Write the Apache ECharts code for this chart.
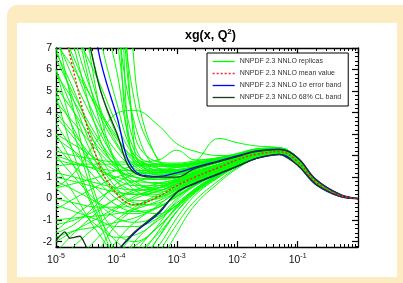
<!DOCTYPE html>
<html>
<head>
<meta charset="utf-8">
<script src="https://cdn.jsdelivr.net/npm/echarts@6/dist/echarts.min.js"></script>
<style>
  html, body { margin: 0; padding: 0; background: #fff; }
  #main { width: 403px; height: 283px; }
</style>
</head>
<body>
<div id="main"></div>
<script>
// x grid shared by the replicas and the bands
var xs = [1e-5, 2e-5, 5e-5, 1e-4, 2e-4, 5e-4, 1e-3, 2e-3, 5e-3, 1e-2, 2e-2, 5e-2, 0.1, 0.2, 0.5, 1];

var meanValue = [10, 5.8, 1.7, 0.25, -0.28, 0.1, 0.6, 1.0, 1.45, 1.8, 2.05, 2.18, 1.72, 0.78, 0.15, 0];
var sigmaUpper = [20, 14, 6.9, 3.9, 1.3, 1.03, 1.2, 1.45, 1.75, 1.98, 2.2, 2.3, 1.9, 0.9, 0.2, 0];
var sigmaLower = [-12, -9, -5, -2.6, -1.6, -0.7, 0.28, 0.7, 1.15, 1.5, 1.85, 2.05, 1.55, 0.66, 0.1, 0];
var clUpper = [16, 11, 5.4, 3.1, 1.2, 1.0, 1.0, 1.4, 1.72, 1.95, 2.18, 2.28, 1.89, 0.89, 0.2, 0];
var xsClLower = [1e-5, 1.4e-5, 1.7e-5, 2e-5, 2.5e-5, 3e-5, 4e-5, 5e-5, 1e-4, 2e-4, 5e-4, 1e-3, 2e-3, 5e-3, 1e-2, 2e-2, 5e-2, 0.1, 0.2, 0.5, 1];
var clLower = [-1.95, -1.55, -1.85, -1.8, -1.75, -2.1, -3, -4, -2.5, -1.55, -0.65, 0.3, 0.72, 1.17, 1.5, 1.86, 2.06, 1.56, 0.66, 0.1, 0];

var replicas = [
  [14, 9, 4.5, 2.6, 1.6, 1.2, 1.3, 1.5, 1.8, 2.0, 2.2, 2.3, 1.8, 0.8, 0.15, 0],
  [11, 7.5, 4.2, 2.8, 1.9, 1.5, 1.5, 1.6, 1.85, 2.05, 2.25, 2.3, 1.85, 0.82, 0.16, 0],
  [9, 6.2, 3.5, 2.2, 1.4, 1.0, 1.0, 1.25, 1.6, 1.9, 2.15, 2.25, 1.75, 0.78, 0.15, 0],
  [7.5, 5.5, 3.2, 1.8, 1.0, 0.7, 0.8, 1.05, 1.5, 1.85, 2.1, 2.2, 1.7, 0.75, 0.14, 0],
  [6.5, 4.8, 2.8, 1.7, 1.2, 0.9, 0.95, 1.2, 1.55, 1.85, 2.1, 2.2, 1.72, 0.76, 0.14, 0],
  [5.8, 4.5, 2.6, 1.5, 0.8, 0.4, 0.6, 0.95, 1.4, 1.75, 2.05, 2.2, 1.7, 0.74, 0.14, 0],
  [20, 15, 8, 4.5, 2.0, 1.1, 1.1, 1.35, 1.7, 1.95, 2.2, 2.3, 1.8, 0.8, 0.15, 0],
  [25, 18, 10, 6.0, 2.2, 1.6, 1.55, 1.65, 1.85, 2.05, 2.3, 2.35, 1.85, 0.82, 0.16, 0],
  [40, 30, 18, 10, 1.8, 1.6, 1.6, 1.7, 1.85, 2.0, 2.25, 2.3, 1.85, 0.8, 0.15, 0],
  [60, 45, 30, 20, 1.6, 1.5, 1.55, 1.65, 1.9, 2.05, 2.25, 2.35, 1.85, 0.82, 0.16, 0],
  [50, 40, 25, 15, 3.0, 1.7, 1.65, 1.75, 1.9, 2.1, 2.3, 2.35, 1.9, 0.82, 0.16, 0],
  [30, 22, 12, 7.5, 2.5, 1.3, 1.3, 1.45, 1.75, 2.0, 2.2, 2.3, 1.8, 0.8, 0.15, 0],
  [-6, -4.5, -2.5, -1.2, -0.5, 0.1, 0.5, 0.9, 1.4, 1.8, 2.1, 2.2, 1.7, 0.75, 0.14, 0],
  [-9, -7, -4.5, -2.8, -1.6, -0.6, 0.2, 0.75, 1.3, 1.7, 2.0, 2.15, 1.68, 0.74, 0.14, 0],
  [-14, -11, -7, -4.5, -2.6, -1.2, -0.1, 0.6, 1.2, 1.65, 2.0, 2.15, 1.68, 0.74, 0.13, 0],
  [-20, -15, -10, -6.5, -3.8, -1.8, -0.6, 0.3, 1.05, 1.55, 1.95, 2.1, 1.65, 0.73, 0.13, 0],
  [-3, -2.2, -1.2, -0.5, 0, 0.35, 0.65, 1.0, 1.45, 1.8, 2.1, 2.2, 1.72, 0.76, 0.14, 0],
  [-2, -1.5, -0.9, -0.4, 0.1, 0.5, 0.8, 1.1, 1.5, 1.85, 2.1, 2.2, 1.7, 0.75, 0.14, 0],
  [-25, -19, -13, -8, -5, -2.6, -1.2, -0.1, 0.85, 1.45, 1.9, 2.1, 1.65, 0.72, 0.13, 0],
  [-30, -24, -16, -10, -6, -3.2, -1.6, -0.3, 0.75, 1.4, 1.85, 2.05, 1.62, 0.72, 0.12, 0],
  [1.0, 0.8, 0.5, 0.3, 0.2, 0.35, 0.7, 1.05, 1.5, 1.85, 2.1, 2.2, 1.7, 0.75, 0.14, 0],
  [2.0, 1.7, 1.3, 1.0, 0.8, 0.75, 0.9, 1.2, 1.6, 1.9, 2.15, 2.25, 1.75, 0.77, 0.15, 0],
  [0.0, -0.2, -0.4, -0.4, -0.3, 0.05, 0.45, 0.85, 1.35, 1.75, 2.05, 2.2, 1.7, 0.75, 0.14, 0],
  [-1.0, -0.9, -0.8, -0.7, -0.5, -0.1, 0.3, 0.75, 1.3, 1.7, 2.05, 2.15, 1.7, 0.74, 0.14, 0],
  [3.0, 2.5, 1.8, 1.3, 1.0, 0.9, 1.0, 1.25, 1.6, 1.9, 2.15, 2.25, 1.76, 0.78, 0.15, 0],
  [-1.8, -1.5, -1.3, -1.1, -0.9, -0.4, 0.1, 0.6, 1.2, 1.65, 2.0, 2.15, 1.68, 0.74, 0.13, 0],
  [4.5, 3.5, 2.2, 1.4, 1.0, 0.9, 1.1, 1.35, 1.7, 1.95, 2.2, 2.28, 1.8, 0.79, 0.15, 0],
  [1.5, 1.6, 1.6, 1.6, 1.6, 1.55, 1.55, 1.6, 1.8, 2.0, 2.25, 2.32, 1.85, 0.8, 0.16, 0],
  [0.5, 0.7, 1.0, 1.3, 1.5, 1.6, 1.6, 1.65, 1.85, 2.0, 2.25, 2.3, 1.82, 0.8, 0.15, 0],
  [-1.5, -0.8, 0, 0.5, 0.8, 1.0, 1.1, 1.3, 1.6, 1.85, 2.1, 2.2, 1.72, 0.76, 0.14, 0],
  [-2.5, -1.6, -0.6, 0, 0.4, 0.7, 0.9, 1.15, 1.5, 1.8, 2.1, 2.2, 1.7, 0.75, 0.14, 0],
  [2.5, 1.5, 0.4, -0.3, -0.6, -0.4, 0.1, 0.65, 1.25, 1.7, 2.05, 2.18, 1.7, 0.74, 0.14, 0],
  [5, 3.2, 1.2, 0.2, -0.3, -0.2, 0.3, 0.8, 1.35, 1.75, 2.05, 2.2, 1.7, 0.75, 0.14, 0],
  [7, 4.5, 1.8, 0.5, -0.1, 0.0, 0.4, 0.85, 1.4, 1.8, 2.1, 2.2, 1.7, 0.75, 0.14, 0],
  [3.5, 2.2, 0.8, 0.0, -0.5, -0.7, -0.3, 0.35, 1.1, 1.6, 2.0, 2.15, 1.68, 0.74, 0.13, 0],
  [0.5, -0.3, -1.3, -1.8, -1.7, -1.0, -0.3, 0.4, 1.1, 1.6, 2.0, 2.15, 1.66, 0.73, 0.13, 0],
  [6, 4, 1.5, 0.4, 0.2, 0.5, 0.85, 1.15, 1.55, 1.85, 2.1, 2.22, 1.72, 0.76, 0.14, 0],
  [-0.5, 0.0, 0.6, 1.0, 1.2, 1.25, 1.3, 1.45, 1.7, 1.95, 2.2, 2.28, 1.8, 0.79, 0.15, 0],
  [6, 3, -0.5, -2.5, -3, -1.8, -0.6, 0.3, 1.05, 1.55, 1.95, 2.1, 1.65, 0.73, 0.13, 0],
  [3, 1.5, -1, -2.8, -3.5, -2.2, -0.9, 0.15, 1.0, 1.5, 1.95, 2.1, 1.64, 0.72, 0.13, 0],
  [1.5, 0.2, -1.6, -2.4, -2.2, -1.3, -0.4, 0.45, 1.15, 1.6, 2.0, 2.15, 1.66, 0.73, 0.13, 0],
  [0.5, 1.2, 2.8, 3.95, 4.1, 3.4, 2.55, 2.2, 2.0, 2.05, 2.3, 2.35, 1.85, 0.8, 0.15, 0],
  [1.8, 1.6, 1.4, 1.3, 1.3, 1.35, 1.45, 1.7, 2.8, 2.6, 2.45, 2.35, 1.9, 0.82, 0.16, 0],
  [2.2, 2.0, 1.8, 1.7, 1.7, 1.8, 2.25, 1.8, 1.9, 2.05, 2.28, 2.35, 1.88, 0.81, 0.16, 0],
  [8.5, 6.5, 4.0, 2.5, 1.5, 1.1, 1.15, 1.4, 1.7, 1.95, 2.15, 2.22, 1.75, 0.77, 0.15, 0],
  [10, 7, 3.0, 1.4, 0.7, 0.5, 0.7, 1.0, 1.45, 1.8, 2.08, 2.18, 1.7, 0.75, 0.14, 0],
  [12, 8.5, 3.8, 1.6, 0.6, 0.3, 0.55, 0.95, 1.4, 1.78, 2.05, 2.15, 1.7, 0.74, 0.14, 0],
  [16, 11, 5.5, 3.0, 1.7, 1.3, 1.35, 1.5, 1.78, 2.0, 2.2, 2.28, 1.8, 0.79, 0.15, 0],
  [9.5, 7.8, 5.5, 3.5, 2.0, 1.4, 1.35, 1.5, 1.75, 1.98, 2.2, 2.27, 1.78, 0.78, 0.15, 0],
  [7.2, 6.0, 4.2, 2.9, 1.8, 1.3, 1.25, 1.42, 1.72, 1.95, 2.16, 2.25, 1.76, 0.77, 0.15, 0],
  [6.8, 5.0, 2.2, 0.8, 0.2, 0.2, 0.5, 0.9, 1.4, 1.78, 2.06, 2.18, 1.7, 0.75, 0.14, 0],
  [5.2, 4.0, 2.4, 1.6, 1.25, 1.15, 1.2, 1.4, 1.7, 1.95, 2.15, 2.25, 1.76, 0.77, 0.15, 0],
  [4.0, 3.0, 1.6, 0.8, 0.4, 0.4, 0.7, 1.05, 1.5, 1.83, 2.1, 2.2, 1.72, 0.76, 0.14, 0],
  [18, 12, 4.5, 1.6, 0.4, 0.1, 0.4, 0.85, 1.35, 1.75, 2.05, 2.18, 1.7, 0.75, 0.14, 0],
  [35, 25, 14, 8.5, 3.5, 1.4, 1.3, 1.45, 1.75, 1.98, 2.2, 2.28, 1.8, 0.79, 0.15, 0],
  [45, 34, 20, 12, 4.5, 1.8, 1.5, 1.6, 1.82, 2.02, 2.24, 2.3, 1.82, 0.8, 0.15, 0],
  [80, 60, 40, 25, 6, 1.7, 1.45, 1.55, 1.8, 2.0, 2.22, 2.3, 1.82, 0.8, 0.15, 0],
  [70, 50, 35, 22, 2.2, 1.2, 1.2, 1.4, 1.72, 1.96, 2.18, 2.26, 1.78, 0.78, 0.15, 0],
  [-4, -3, -1.8, -1.0, -0.4, 0.2, 0.6, 0.95, 1.42, 1.8, 2.08, 2.18, 1.7, 0.75, 0.14, 0],
  [-1.2, -1.0, -0.5, 0.0, 0.3, 0.6, 0.85, 1.1, 1.5, 1.83, 2.1, 2.2, 1.72, 0.76, 0.14, 0],
  [0.8, 0.4, -0.2, -0.6, -0.7, -0.4, 0.1, 0.6, 1.2, 1.65, 2.0, 2.15, 1.68, 0.74, 0.13, 0],
  [2.0, 1.0, -0.2, -0.9, -1.1, -0.8, -0.2, 0.45, 1.15, 1.6, 2.0, 2.15, 1.66, 0.73, 0.13, 0],
  [-0.3, -0.6, -1.0, -1.3, -1.3, -0.9, -0.3, 0.4, 1.1, 1.6, 1.98, 2.12, 1.66, 0.73, 0.13, 0],
  [-11, -8, -5, -3.2, -2.0, -0.9, 0.0, 0.65, 1.25, 1.7, 2.02, 2.15, 1.68, 0.74, 0.13, 0],
  [-7, -5.2, -3.2, -2.0, -1.1, -0.3, 0.35, 0.85, 1.38, 1.76, 2.06, 2.18, 1.7, 0.75, 0.14, 0],
  [-17, -13, -8.5, -5.5, -3.2, -1.5, -0.35, 0.45, 1.12, 1.6, 1.98, 2.12, 1.66, 0.73, 0.13, 0],
  [1.2, 1.0, 0.7, 0.5, 0.4, 0.5, 0.75, 1.05, 1.48, 1.82, 2.08, 2.2, 1.71, 0.75, 0.14, 0],
  [2.8, 2.2, 1.4, 0.9, 0.6, 0.6, 0.8, 1.1, 1.52, 1.85, 2.1, 2.2, 1.72, 0.76, 0.14, 0],
  [3.8, 2.8, 1.2, 0.3, -0.2, -0.3, 0.15, 0.7, 1.3, 1.72, 2.04, 2.17, 1.69, 0.74, 0.14, 0],
  [-1.6, -1.2, -0.2, 0.7, 1.1, 1.2, 1.25, 1.4, 1.68, 1.93, 2.16, 2.25, 1.76, 0.77, 0.15, 0],
  [4.8, 2.0, -0.8, -2.0, -2.4, -1.6, -0.6, 0.25, 1.0, 1.52, 1.95, 2.1, 1.64, 0.72, 0.13, 0],
  [8, 4.0, -0.2, -1.6, -2.0, -1.3, -0.45, 0.35, 1.08, 1.58, 1.98, 2.12, 1.66, 0.73, 0.13, 0]
];

var yTicks = [-2, -1, 0, 1, 2, 3, 4, 5, 6, 7];
var yMinor = [];
for (var v = -22; v <= 70; v += 2) { if (v % 10 !== 0) yMinor.push(v / 10); }
var xMinor = [];
for (var d = -5; d < 0; d++) {
  for (var m = 2; m <= 9; m++) xMinor.push(m * Math.pow(10, d));
}

function pairs(x, y) {
  return x.map(function (v, i) { return [v, y[i]]; });
}

var font = 'Liberation Sans';
var NAMES = ['NNPDF 2.3 NNLO replicas', 'NNPDF 2.3 NNLO mean value',
             'NNPDF 2.3 NNLO 1\u03c3 error band', 'NNPDF 2.3 NNLO 68% CL band'];

function lineSeries(name, data, color, width, smooth, type) {
  return {
    name: name, type: 'line', data: data, smooth: smooth,
    symbol: 'none', showSymbol: false,
    lineStyle: { color: color, width: width, type: type || 'solid' },
    itemStyle: { color: color }
  };
}

var series = [];
replicas.forEach(function (r) {
  series.push(lineSeries(NAMES[0], pairs(xs, r), '#00ff00', 1, 0.4));
});
series.push(lineSeries(NAMES[2], pairs(xs, sigmaUpper), '#0000ff', 1.3, 0.4));
series.push(lineSeries(NAMES[2], pairs(xs, sigmaLower), '#0000ff', 1.3, 0.4));
series.push(lineSeries(NAMES[3], pairs(xs, clUpper), '#1c3a1c', 1.3, 0.4));
series.push(lineSeries(NAMES[3], pairs(xsClLower, clLower), '#1c3a1c', 1.3, 0.2));
series.push(lineSeries(NAMES[1], pairs(xs, meanValue), '#ff2020', 1.5, 0.4, [2, 2]));

function xAxisDef(pos, minor) {
  return {
    type: 'log', logBase: 10, min: 1e-5, max: 1, position: pos,
    axisLine: { show: !minor, onZero: false, lineStyle: { color: '#000', width: 1.3 } },
    axisTick: minor
      ? { show: true, inside: true, length: 3, customValues: xMinor, lineStyle: { color: '#000' } }
      : { show: true, inside: true, length: 6, lineStyle: { color: '#000', width: 1.2 } },
    axisLabel: {
      show: pos === 'bottom' && !minor, margin: 6, showMaxLabel: false,
      formatter: function (val) {
        if (val >= 1) return '';
        return '{b|10}{e|' + Math.round(Math.log10(val)) + '}';
      },
      rich: {
        b: { fontSize: 10.5, fontFamily: font, color: '#111' },
        e: { fontSize: 7, fontFamily: font, color: '#111', padding: [0, 0, 7, 0] }
      }
    },
    splitLine: { show: false }
  };
}
function yAxisDef(pos, minor) {
  return {
    type: 'value', min: -2.25, max: 7, position: pos,
    axisLine: { show: !minor, lineStyle: { color: '#000', width: 1.3 } },
    axisTick: {
      show: true, inside: true, length: minor ? 3 : 6, customValues: minor ? yMinor : yTicks,
      lineStyle: { color: '#000', width: minor ? 1 : 1.2 }
    },
    axisLabel: {
      show: pos === 'left' && !minor, customValues: yTicks, margin: 4,
      fontSize: 10.5, fontFamily: font, color: '#111'
    },
    splitLine: { show: false }
  };
}

var chart = echarts.init(document.getElementById('main'));
chart.setOption({
  animation: false,
  backgroundColor: '#fff',
  graphic: [
    { type: 'rect', z: -10, shape: { x: 7, y: 5, width: 420, height: 300, r: 10 }, style: { fill: '#fdebc2' } },
    { type: 'rect', z: -9, shape: { x: 17, y: 23, width: 380, height: 254 }, style: { fill: '#ffffff' } }
  ],
  title: {
    text: '{t|xg(x, Q}{s|2}{t|)}',
    left: 180, top: 23,
    textStyle: {
      rich: {
        t: { fontSize: 12.5, fontWeight: 'bold', fontFamily: font, color: '#000' },
        s: { fontSize: 8, fontWeight: 'bold', fontFamily: font, color: '#000', padding: [0, 0, 8, 0] }
      }
    }
  },
  legend: {
    orient: 'vertical', left: 207, top: 53,
    itemWidth: 22, itemHeight: 8, itemGap: 5, itemTextGap: 9,
    padding: [5, 7, 5, 5],
    borderColor: '#000', borderWidth: 1, backgroundColor: '#fff',
    itemStyle: { opacity: 0 },
    lineStyle: { width: 1.3 },
    textStyle: { fontSize: 7, fontFamily: font, color: '#333' },
    data: NAMES
  },
  grid: { left: 56, right: 45, top: 48, bottom: 36, containLabel: false },
  xAxis: [xAxisDef('bottom', false), xAxisDef('bottom', true), xAxisDef('top', false), xAxisDef('top', true)],
  yAxis: [yAxisDef('left', false), yAxisDef('left', true), yAxisDef('right', false), yAxisDef('right', true)],
  series: series
});
</script>
</body>
</html>
